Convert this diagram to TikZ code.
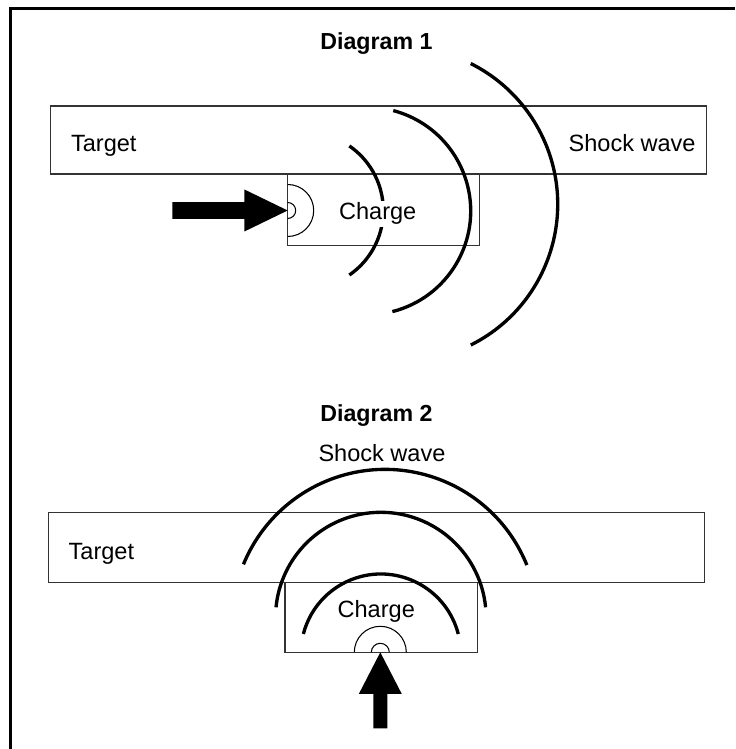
\documentclass[tikz,border=0pt]{standalone}
\usepackage{fontspec}
\setmainfont{Liberation Sans}
\usetikzlibrary{positioning}

\begin{document}
\begin{tikzpicture}[x=0.02cm, y=0.02cm,
  box/.style={draw=black!80, line width=0.6pt},
  wave/.style={line width=1.9pt},
  ring/.style={line width=0.6pt},
  lbl/.style={inner sep=0pt, anchor=base west, font=\fontsize{13.4}{16}\selectfont},
  ttl/.style={inner sep=0pt, anchor=base, font=\fontsize{13.2}{16}\selectfont\bfseries}]
  \useasboundingbox (0,0) rectangle (735,749);

  % frame
  \draw[line width=1.5pt, line join=miter] (10.3,0) -- (10.3,740.7) -- (735,740.7);

  % ---- Diagram 1 ----
  \node[ttl] (title1) at (376.4,699.7) {Diagram 1};
  \draw[box] (50.7,575) rectangle (706.7,643);
  \draw[box] (287.7,503.3) rectangle (479.3,575);
  \node[lbl] (target1) at (70.7,597.3) {Target};
  \node[lbl] (shock1) at (568.3,597.3) {Shock wave};

  \coordinate (src1) at (287.7,538.5);
  \draw[ring] ([shift={(-90:8)}]src1) arc[start angle=-90, end angle=90, radius=8];
  \draw[ring] ([shift={(-90:26)}]src1) arc[start angle=-90, end angle=90, radius=26];
  \fill (src1) -- ++(-43.3,21) -- ++(0,-12.7) -- ++(-72,0) -- ++(0,-16.6)
    -- ++(72,0) -- ++(0,-12.7) -- cycle;

  \draw[wave] (305,538.5) ++(-55.5:78.3) arc[start angle=-55.5, end angle=55.5, radius=78.3];
  \draw[wave] (366.9,538) ++(-75.8:103.8) arc[start angle=-75.8, end angle=75.3, radius=103.8];
  \draw[wave] (400.3,544.7) ++(-63.4:157.4) arc[start angle=-63.4, end angle=63.4, radius=157.4];
  % label sits on top of the inner wave
  \node[lbl, fill=white, inner sep=1pt] (charge1) at (337,529) {Charge};

  % ---- Diagram 2 ----
  \node[ttl] (title2) at (376.4,327) {Diagram 2};
  \node[lbl, anchor=base] (shock2) at (382,287) {Shock wave};
  \draw[box] (48.3,166.7) rectangle (704.3,236.3);
  \draw[box] (285,96.7) rectangle (477.3,166.7);
  \node[lbl] (target2) at (68.3,189.8) {Target};
  \node[lbl] (charge2) at (337.3,131.3) {Charge};

  \coordinate (src2) at (380.3,96.7);
  \draw[ring] ([shift={(0:9)}]src2) arc[start angle=0, end angle=180, radius=9];
  \draw[ring] ([shift={(0:26)}]src2) arc[start angle=0, end angle=180, radius=26];
  \fill (src2) -- ++(21.5,-41.7) -- ++(-14.5,0) -- ++(0,-34.3) -- ++(-14,0)
    -- ++(0,34.3) -- ++(-14.5,0) -- cycle;

  \draw[wave] (380.8,95) ++(14.5:80) arc[start angle=14.5, end angle=165.5, radius=80];
  \draw[wave] (380.8,131.4) ++(5.6:105.3) arc[start angle=5.6, end angle=174.4, radius=105.3];
  \draw[wave] (385,126.6) ++(22:153) arc[start angle=22, end angle=157.7, radius=153];
\end{tikzpicture}
\end{document}
